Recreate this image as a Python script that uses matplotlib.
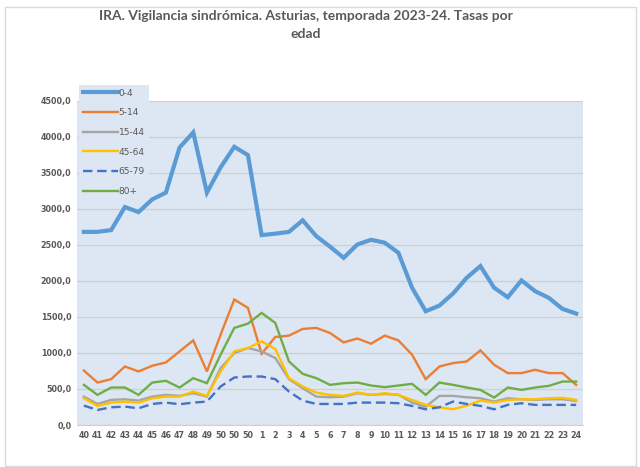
import matplotlib.pyplot as plt
import matplotlib.patches as mpatches
import numpy as np

semanas = ["40", "41", "42", "43", "44", "45", "46", "47", "48", "49", "50", "50", "50",
           "1", "2", "3", "4", "5", "6", "7", "8", "9", "10", "11", "12", "13", "14",
           "15", "16", "17", "18", "19", "20", "21", "22", "23", "24"]

g_0_4 = [2680, 2680, 2705, 3025, 2955, 3130, 3225, 3850, 4060, 3225, 3575, 3860, 3745,
         2635, 2655, 2680, 2840, 2620, 2475, 2320, 2505, 2570, 2530, 2390, 1905, 1578,
         1657, 1825, 2043, 2205, 1905, 1773, 2006, 1857, 1764, 1611, 1546]
g_5_14 = [756, 589, 636, 812, 743, 822, 868, 1021, 1174, 743, 1253, 1741, 1625,
          989, 1221, 1240, 1333, 1347, 1277, 1146, 1200, 1128, 1240, 1174, 975, 636,
          812, 859, 882, 1035, 836, 720, 720, 766, 720, 720, 557]
g_15_44 = [394, 292, 348, 357, 339, 394, 418, 404, 441, 394, 790, 998, 1068,
           1021, 929, 636, 511, 394, 385, 394, 441, 418, 430, 420, 311, 255,
           404, 404, 385, 371, 325, 371, 357, 348, 357, 357, 334]
g_45_64 = [371, 265, 311, 325, 311, 371, 394, 394, 464, 404, 743, 1021, 1068,
           1161, 1054, 650, 534, 450, 418, 404, 450, 418, 441, 418, 348, 279,
           246, 218, 269, 339, 311, 348, 357, 357, 371, 377, 348]
g_65_79 = [269, 209, 246, 255, 232, 292, 311, 288, 311, 325, 534, 659, 673,
           673, 636, 464, 339, 292, 292, 292, 311, 311, 311, 302, 265, 218,
           246, 325, 292, 265, 218, 279, 302, 279, 279, 279, 279]
g_80 = [557, 418, 520, 520, 418, 589, 613, 520, 650, 580, 975, 1347, 1407,
        1555, 1416, 882, 710, 650, 557, 580, 589, 548, 525, 548, 571, 418,
        589, 557, 520, 487, 380, 520, 487, 520, 543, 603, 603]

series = [("0-4", g_0_4, "#5b9bd5", "-", 3.0),
          ("5-14", g_5_14, "#ed7d31", "-", 1.7),
          ("15-44", g_15_44, "#a5a5a5", "-", 1.7),
          ("45-64", g_45_64, "#ffc000", "-", 1.7),
          ("65-79", g_65_79, "#4472c4", "--", 1.7),
          ("80+", g_80, "#70ad47", "-", 1.7)]

fondo = "#dde7f3"
gris = "#595959"

fig = plt.figure(figsize=(6.4, 4.67), dpi=100)
ax = fig.add_axes([77 / 640, 1 - 425 / 467, 506 / 640, 324.3 / 467])
ax.set_facecolor(fondo)

x = np.arange(len(semanas))
for nombre, vals, color, ls, lw in series:
    l, = ax.plot(x, vals, color=color, linestyle=ls, linewidth=lw, label=nombre,
                 solid_joinstyle="miter", dash_capstyle="butt")
    if ls == "--":
        l.set_dashes((4, 2))

ax.set_xlim(-0.5, len(semanas) - 0.5)
ax.set_ylim(0, 4500)
ax.set_yticks(np.arange(0, 4501, 500))
ax.set_yticklabels([f"{v:.1f}".replace(".", ",") for v in np.arange(0, 4501, 500)])
ax.set_xticks(x)
ax.set_xticklabels(semanas)
ax.tick_params(axis="both", length=0, labelsize=5.8, labelcolor=gris, pad=4)
for lab in ax.get_xticklabels() + ax.get_yticklabels():
    lab.set_fontweight("bold")
ax.grid(axis="y", color="#d0d0d0", linewidth=1)
ax.set_axisbelow(True)
for s in ["left", "right", "top"]:
    ax.spines[s].set_visible(False)
ax.spines["bottom"].set_color("#d0d0d0")

leg = fig.legend(loc="upper left", bbox_to_anchor=(79 / 640, 1 - 85 / 467),
                 fontsize=6.5, handlelength=3.9, labelspacing=1.18,
                 handletextpad=0.1, borderpad=0.4, borderaxespad=0,
                 facecolor=fondo, edgecolor="none", framealpha=1, fancybox=False)
for t in leg.get_texts():
    t.set_color(gris)

fig.text(0.478, 1 - 16 / 467, "IRA. Vigilancia sindrómica. Asturias, temporada 2023-24. Tasas por",
         ha="center", va="center", fontsize=10, fontweight="bold", color=gris,
         family="Lato")
fig.text(0.478, 1 - 34 / 467, "edad", ha="center", va="center", fontsize=10,
         fontweight="bold", color=gris, family="Lato")

fig.patches.append(mpatches.Rectangle((5 / 640, 1 / 467), 631 / 640, 459 / 467,
                                      transform=fig.transFigure, fill=False,
                                      edgecolor="#d9d9d9", linewidth=1))

fig.savefig("out.png", dpi=100)
